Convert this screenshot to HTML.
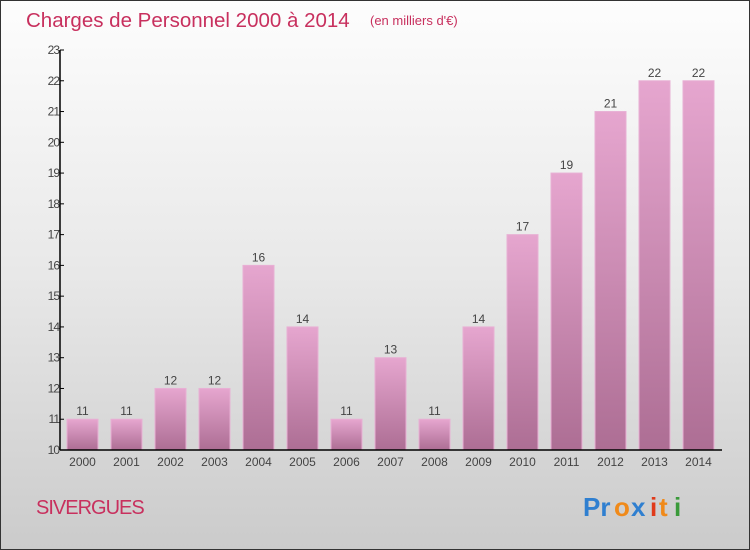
<!DOCTYPE html>
<html><head><meta charset="utf-8"><style>
body{margin:0;width:750px;height:550px;overflow:hidden;font-family:"Liberation Sans",sans-serif}
#wrap{position:absolute;left:0;top:0;width:748px;height:548px;border:1px solid #333;background:linear-gradient(#fdfdfd,#e8e8e8 50%,#cbcbcb)}
</style></head><body>
<div id="wrap">
<svg width="750" height="550" style="position:absolute;left:-1px;top:-1px">
<defs><linearGradient id="bg" x1="0" y1="0" x2="0" y2="1"><stop offset="0" stop-color="#e6a6cf"/><stop offset="1" stop-color="#ad6e94"/></linearGradient></defs>
<text x="26" y="27" font-size="20.5" fill="#c8305e">Charges de Personnel 2000 à 2014</text>
<text x="370" y="25" font-size="13" fill="#c8305e">(en milliers d'€)</text>
<text x="36" y="514" font-size="20" fill="#c8305e" letter-spacing="-1">SIVERGUES</text>
<g font-size="26" font-weight="bold">
<text x="583" y="516" fill="#2f7fd0">Pr</text><text x="614" y="516" fill="#f08a1a">o</text><text x="631" y="516" fill="#2f7fd0">x</text><text x="650" y="516" fill="#e03a1a">i</text><text x="659" y="516" fill="#f08a1a">t</text><text x="674" y="516" fill="#3a9a3a">i</text></g>
<g id="g"></g>
</svg></div>
<script>
const years=["2000","2001","2002","2003","2004","2005","2006","2007","2008","2009","2010","2011","2012","2013","2014"];
const values=[11,11,12,12,16,14,11,13,11,14,17,19,21,22,22];
const yTicks=[10,11,12,13,14,15,16,17,18,19,20,21,22,23];
const yMin=10,yMax=23,plotTop=50,plotBot=450,x0=60;
const y=v=>plotBot-(v-yMin)/(yMax-yMin)*(plotBot-plotTop);
const xc=i=>82.5+i*44;
const g=document.getElementById('g');const ns='http://www.w3.org/2000/svg';
function mk(t,a,txt){const e=document.createElementNS(ns,t);for(const k in a)e.setAttribute(k,a[k]);if(txt!=null)e.textContent=txt;g.appendChild(e);return e;}
values.forEach((v,i)=>{
const r=mk('rect',{x:xc(i)-15.5,y:y(v),width:31,height:plotBot-y(v),fill:'url(#bg)',stroke:'#e8b0d4','stroke-width':1});


const t=mk('text',{x:xc(i),y:y(v)-4,'font-size':12,fill:'#444','text-anchor':'middle'},String(v));


const xl=mk('text',{x:xc(i),y:466,'font-size':12,fill:'#444','text-anchor':'middle'},years[i]);


});
yTicks.forEach(v=>{
const tk=mk('line',{x1:x0,x2:x0+4,y1:y(v),y2:y(v),stroke:'#000'});


const l=mk('text',{x:x0-1,y:y(v)+4,'font-size':12,fill:'#444','text-anchor':'end',"letter-spacing":"-1"},String(v));


});
const ya=mk('line',{x1:x0,x2:x0,y1:plotTop,y2:plotBot,stroke:'#000','stroke-width':1.5});


const xa=mk('line',{x1:x0,x2:722,y1:plotBot,y2:plotBot,stroke:'#000','stroke-width':1.5});


</script>
</body></html>
